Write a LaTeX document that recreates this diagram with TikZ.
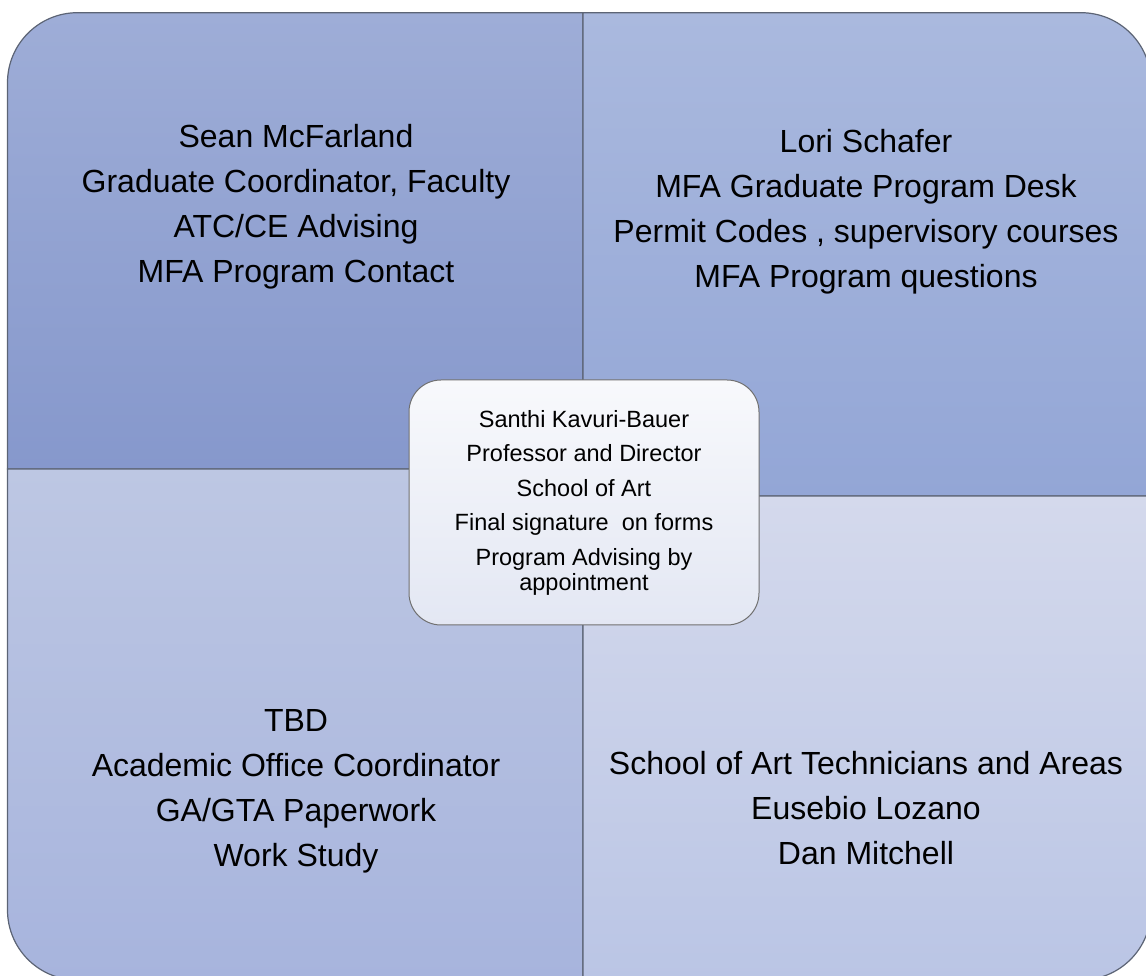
\documentclass[tikz,border=0pt]{standalone}
\usepackage{fontspec}
\setmainfont{Liberation Sans}
\definecolor{edgegray}{HTML}{5C6475}
\definecolor{tlTop}{HTML}{9EADD7}
\definecolor{tlBot}{HTML}{8698CC}
\definecolor{trTop}{HTML}{AAB9DE}
\definecolor{trBot}{HTML}{93A6D6}
\definecolor{blTop}{HTML}{BDC7E3}
\definecolor{blBot}{HTML}{A7B4DD}
\definecolor{brTop}{HTML}{D4D9EC}
\definecolor{brBot}{HTML}{BAC5E5}
\definecolor{hubTop}{HTML}{F8F9FC}
\definecolor{hubBot}{HTML}{E3E7F3}
\definecolor{hubEdge}{HTML}{707070}
\begin{document}
\begin{tikzpicture}[x=1pt,y=1pt,
  quad/.style={draw=edgegray, line width=1.2pt},
  qtext/.style={align=center, font=\fontsize{32}{45}\selectfont, text=black, inner sep=0pt},
  hub/.style={draw=hubEdge, line width=1pt, rounded corners=32pt, top color=hubTop, bottom color=hubBot,
    minimum width=350pt, minimum height=245pt, align=center,
    font=\fontsize{23.5}{25}\selectfont, inner sep=0pt}]
\useasboundingbox (0,0) rectangle (1146,975);
\clip (0,0) rectangle (1146,975);
% quadrants
\draw[quad, top color=tlTop, bottom color=tlBot]
  (583,506) -- (7.5,506) -- (7.5,892.3) arc[start angle=180, end angle=90, radius=70] -- (583,962.3) -- cycle;
\draw[quad, top color=trTop, bottom color=trBot]
  (583,479) -- (583,962.3) -- (1081,962.3) arc[start angle=90, end angle=0, radius=70] -- (1151,479) -- cycle;
\draw[quad, top color=blTop, bottom color=blBot]
  (7.5,506) -- (583,506) -- (583,-5) -- (77.5,-5) arc[start angle=270, end angle=180, radius=70] -- cycle;
\draw[quad, top color=brTop, bottom color=brBot]
  (583,479) -- (1151,479) -- (1151,65) arc[start angle=0, end angle=-90, radius=70] -- (583,-5) -- cycle;
% quadrant texts
\node[qtext] (tl) at (296,768) {Sean McFarland\\Graduate Coordinator, Faculty\\ATC/CE Advising\\MFA Program Contact};
\node[qtext] (tr) at (866,763) {Lori Schafer\\MFA Graduate Program Desk\\Permit Codes , supervisory courses\\MFA Program questions};
\node[qtext] (bl) at (296,184) {TBD\\Academic Office Coordinator\\GA/GTA Paperwork\\Work Study};
\node[qtext] (br) at (866,167) {School of Art Technicians and Areas\\Eusebio Lozano\\Dan Mitchell};
% central hub
\node[hub] (hub) at (584,472.5) {Santhi Kavuri-Bauer\\[9.5pt]Professor and Director\\[9.5pt]School of Art\\[9.5pt]Final signature~ on forms\\[9.5pt]Program Advising by\\appointment};
\end{tikzpicture}
\end{document}
